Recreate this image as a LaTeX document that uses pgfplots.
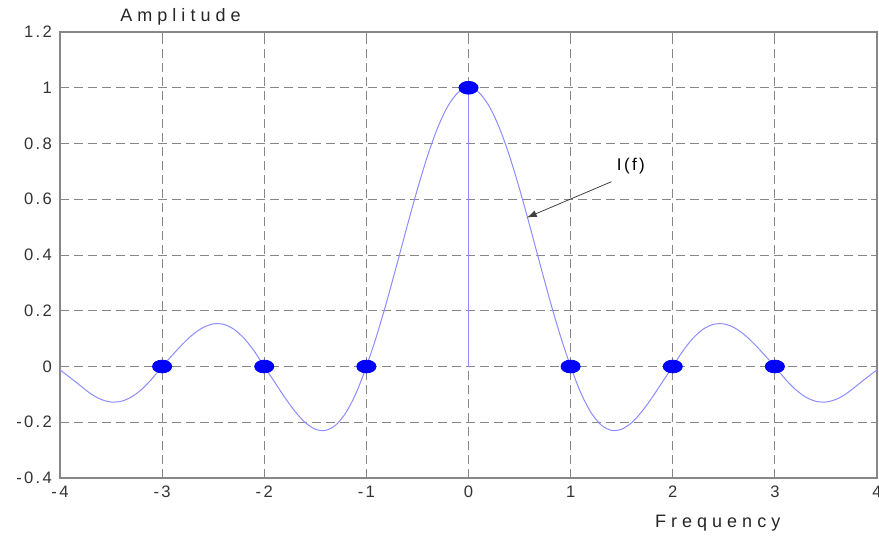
\documentclass[border=0pt]{standalone}
\usepackage{fontspec}
\setmainfont{Liberation Sans}
\newfontfamily\spaced[LetterSpace=28]{Liberation Sans}
\newfontfamily\tickfont[LetterSpace=14]{Liberation Sans}
\usepackage{pgfplots}
\pgfplotsset{compat=1.18}
\usetikzlibrary{arrows.meta}
\definecolor{curveblue}{RGB}{140,140,255}
\definecolor{gridgray}{RGB}{135,135,135}
\begin{document}
\begin{tikzpicture}
\useasboundingbox (-30pt,-30pt) rectangle (409.5pt,239pt);
\begin{axis}[
  at={(0,0)}, anchor=south west,
  scale only axis, width=408.5pt, height=223pt,
  xmin=-4, xmax=4, ymin=-0.4, ymax=1.2,
  xtick={-4,-3,...,4}, ytick={-0.4,-0.2,0,0.2,0.4,0.6,0.8,1,1.2},
  yticklabel style={/pgf/number format/fixed},
  /pgf/number format/assume math mode=true,
  tick label style={font=\tickfont\fontsize{8.3}{10}\selectfont, text=black!80},
  xticklabel style={yshift=-0.5pt},
  yticklabel style={xshift=-0.5pt},
  axis line style={gridgray, line width=0.6pt},
  tick style={gridgray, line width=0.5pt},
  tick align=inside, major tick length=3pt,
  grid=major,
  major grid style={gridgray, line width=0.5pt, dash pattern=on 4.5pt off 2.5pt},
  clip=false,
]
\addplot[curveblue, line width=0.5pt, smooth] coordinates {
(-4.0,-0.012) (-3.9,-0.040) (-3.8,-0.0689) (-3.7,-0.0974) (-3.6,-0.1177) (-3.5,-0.1273) (-3.4,-0.1247) (-3.3,-0.1093) (-3.2,-0.0819) (-3.1,-0.0444) (-3.0,0)
(-2.9,0.0407) (-2.8,0.0802) (-2.7,0.1145) (-2.6,0.1397) (-2.5,0.1528) (-2.4,0.1514) (-2.3,0.1344) (-2.2,0.1021) (-2.1,0.0562) (-2.0,0)
(-1.9,-0.0549) (-1.8,-0.1102) (-1.7,-0.1606) (-1.6,-0.2006) (-1.5,-0.2249) (-1.4,-0.2292) (-1.3,-0.2100) (-1.2,-0.1653) (-1.1,-0.0948) (-1.0,0)
(-0.9,0.1093) (-0.8,0.2339) (-0.7,0.3679) (-0.6,0.5046) (-0.5,0.6366) (-0.4,0.7568) (-0.3,0.8584) (-0.2,0.9355) (-0.1,0.9836) (0,1)
(0.1,0.9836) (0.2,0.9355) (0.3,0.8584) (0.4,0.7568) (0.5,0.6366) (0.6,0.5046) (0.7,0.3679) (0.8,0.2339) (0.9,0.1093) (1.0,0)
(1.1,-0.0948) (1.2,-0.1653) (1.3,-0.2100) (1.4,-0.2292) (1.5,-0.2249) (1.6,-0.2006) (1.7,-0.1606) (1.8,-0.1102) (1.9,-0.0549) (2.0,0)
(2.1,0.0562) (2.2,0.1021) (2.3,0.1344) (2.4,0.1514) (2.5,0.1528) (2.6,0.1397) (2.7,0.1145) (2.8,0.0802) (2.9,0.0407) (3.0,0)
(3.1,-0.0444) (3.2,-0.0819) (3.3,-0.1093) (3.4,-0.1247) (3.5,-0.1273) (3.6,-0.1177) (3.7,-0.0974) (3.8,-0.0689) (3.9,-0.040) (4.0,-0.012)
};
\addplot[curveblue, line width=0.6pt] coordinates {(0,0) (0,1)};
\addplot[only marks, mark=*, mark size=3.2pt, color=blue, mark options={xscale=1.5, fill=blue, draw=blue}] coordinates {
(-3,0) (-2,0) (-1,0) (0,1) (1,0) (2,0) (3,0)
};
\draw[black!75, line width=0.4pt, -{Latex[length=5pt,width=3.5pt]}] (axis cs:1.40,0.663) -- (axis cs:0.57,0.534);
\node[font=\tickfont\fontsize{8.5}{10}\selectfont] at (axis cs:1.59,0.718) {I(f)};
\node[font=\spaced\fontsize{9}{11}\selectfont, text=black!85] at (axis cs:-2.82,1.2) [yshift=7.5pt] {Amplitude};
\node[font=\spaced\fontsize{9}{11}\selectfont, text=black!85] at (axis cs:2.44,-0.4) [yshift=-22.5pt] {Frequency};
\end{axis}
\end{tikzpicture}
\end{document}
